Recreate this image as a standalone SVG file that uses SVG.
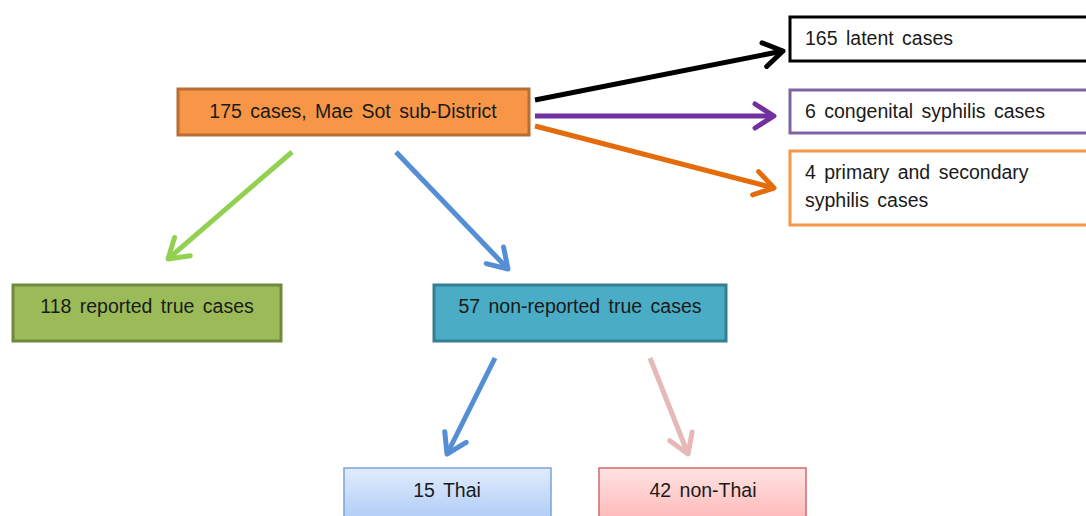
<svg xmlns="http://www.w3.org/2000/svg" width="1086" height="516" viewBox="0 0 1086 516">
<style>
text{font-family:"Liberation Sans",Arial,sans-serif;font-size:19.5px;word-spacing:3px;fill:#1a1a1a}
.c{text-anchor:middle}
.ln{fill:none;stroke-width:5}
</style>
<defs>
<linearGradient id="gBlue" x1="0" y1="0" x2="0" y2="1"><stop offset="0" stop-color="#E1ECFD"/><stop offset="1" stop-color="#A8C7F4"/></linearGradient>
<linearGradient id="gRed" x1="0" y1="0" x2="0" y2="1"><stop offset="0" stop-color="#FFE3E3"/><stop offset="1" stop-color="#FFB2B2"/></linearGradient>
<marker id="mBlack" markerUnits="userSpaceOnUse" viewBox="0 0 26 30" refX="22" refY="15" markerWidth="26" markerHeight="30" orient="auto"><path d="M3,3 L22,15 L3,27" fill="none" stroke="#000" stroke-width="5" stroke-linecap="round" stroke-linejoin="round"/></marker>
<marker id="mPurple" markerUnits="userSpaceOnUse" viewBox="0 0 26 30" refX="22" refY="15" markerWidth="26" markerHeight="30" orient="auto"><path d="M3,3 L22,15 L3,27" fill="none" stroke="#7030A0" stroke-width="5" stroke-linecap="round" stroke-linejoin="round"/></marker>
<marker id="mOrange" markerUnits="userSpaceOnUse" viewBox="0 0 26 30" refX="22" refY="15" markerWidth="26" markerHeight="30" orient="auto"><path d="M3,3 L22,15 L3,27" fill="none" stroke="#E46C0A" stroke-width="5" stroke-linecap="round" stroke-linejoin="round"/></marker>
<marker id="mGreen" markerUnits="userSpaceOnUse" viewBox="0 0 26 30" refX="22" refY="15" markerWidth="26" markerHeight="30" orient="auto"><path d="M3,3 L22,15 L3,27" fill="none" stroke="#92D050" stroke-width="5" stroke-linecap="round" stroke-linejoin="round"/></marker>
<marker id="mBlue" markerUnits="userSpaceOnUse" viewBox="0 0 26 30" refX="22" refY="15" markerWidth="26" markerHeight="30" orient="auto"><path d="M3,3 L22,15 L3,27" fill="none" stroke="#558ED5" stroke-width="5" stroke-linecap="round" stroke-linejoin="round"/></marker>
<marker id="mPink" markerUnits="userSpaceOnUse" viewBox="0 0 26 30" refX="22" refY="15" markerWidth="26" markerHeight="30" orient="auto"><path d="M3,3 L22,15 L3,27" fill="none" stroke="#E6B9B8" stroke-width="5" stroke-linecap="round" stroke-linejoin="round"/></marker>
</defs>
<rect width="1086" height="516" fill="#fff"/>
<g id="connectors">
<line class="ln" x1="535" y1="100" x2="783" y2="51" stroke="#000" marker-end="url(#mBlack)"/>
<line class="ln" x1="535" y1="116" x2="774" y2="116" stroke="#7030A0" marker-end="url(#mPurple)"/>
<line class="ln" x1="535" y1="126" x2="774" y2="188" stroke="#E46C0A" marker-end="url(#mOrange)"/>
<line class="ln" x1="292" y1="152" x2="168" y2="259" stroke="#92D050" marker-end="url(#mGreen)"/>
<line class="ln" x1="396" y1="152" x2="508" y2="269" stroke="#558ED5" marker-end="url(#mBlue)"/>
<line class="ln" x1="495" y1="358" x2="447" y2="454" stroke="#558ED5" marker-end="url(#mBlue)"/>
<line class="ln" x1="650" y1="358" x2="688" y2="454" stroke="#E6B9B8" marker-end="url(#mPink)"/>
</g>
<g id="n-main">
<rect x="178" y="89" width="351" height="46" fill="#F79646" stroke="#B86D32" stroke-width="3"/>
<text class="c" x="353" y="118">175 cases, Mae Sot sub-District</text>
</g>
<g id="n-latent">
<rect x="790" y="17" width="300" height="44" fill="#fff" stroke="#000" stroke-width="3"/>
<text x="805" y="45">165 latent cases</text>
</g>
<g id="n-congenital">
<rect x="790" y="90" width="300" height="43" fill="#fff" stroke="#8064A2" stroke-width="3"/>
<text x="805" y="118">6 congenital syphilis cases</text>
</g>
<g id="n-primary">
<rect x="790" y="151" width="300" height="74" fill="#fff" stroke="#F79646" stroke-width="3"/>
<text x="805" y="179">4 primary and secondary</text>
<text x="805" y="207">syphilis cases</text>
</g>
<g id="n-reported">
<rect x="13" y="285" width="268" height="56" fill="#9BBB59" stroke="#71893F" stroke-width="3"/>
<text class="c" x="147" y="313">118 reported true cases</text>
</g>
<g id="n-nonreported">
<rect x="434" y="285" width="292" height="56" fill="#4BACC6" stroke="#357F93" stroke-width="3"/>
<text class="c" x="580" y="313">57 non-reported true cases</text>
</g>
<g id="n-thai">
<rect x="344" y="468" width="207" height="60" fill="url(#gBlue)" stroke="#7AA3DA" stroke-width="1.5"/>
<text class="c" x="447" y="497">15 Thai</text>
</g>
<g id="n-nonthai">
<rect x="599" y="468" width="207" height="60" fill="url(#gRed)" stroke="#D46A6A" stroke-width="1.5"/>
<text class="c" x="703" y="497">42 non-Thai</text>
</g>
</svg>
